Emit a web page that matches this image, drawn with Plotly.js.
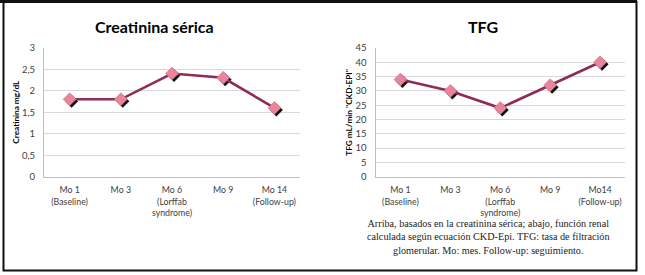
<!DOCTYPE html>
<html><head><meta charset="utf-8">
<script src="https://cdn.plot.ly/plotly-3.0.1.min.js"></script>
<style>html,body{margin:0;padding:0;background:#fff}#c{width:645px;height:275px}</style>
</head><body><div id="c"></div>
<script>
// ---- data ----
const catIdx = [0, 1, 2, 3, 4];
const labelsCreat = ["Mo 1<br>(Baseline)", "Mo 3", "Mo 6<br>(Lorffab<br>syndrome)", "Mo 9", "Mo 14<br>(Follow-up)"];
const labelsTFG = ["Mo 1<br>(Baseline)", "Mo 3", "Mo 6<br>(Lorffab<br>syndrome)", "Mo 9", "Mo14<br>(Follow-up)"];
const creatinina = [1.8, 1.8, 2.4, 2.3, 1.6];
const tfg = [34, 30, 24, 32, 40];
const creatTicks = [0, 0.5, 1, 1.5, 2, 2.5, 3];
const tfgTicks = [0, 5, 10, 15, 20, 25, 30, 35, 40, 45];
const titleCreat = "Creatinina sérica";
const titleTFG = "TFG";
const yTitleCreat = "Creatinina mg/dL";
const yTitleTFG = "TFG mL/min \"CKD-EPI\"";
const caption = "Arriba, basados en la creatinina sérica; abajo, función renal<br>calculada según ecuación CKD-Epi. TFG: tasa de filtración<br>glomerular. Mo: mes. Follow-up: seguimiento.";

// ---- geometry (px) ----
const W = 645, H = 275;
const px = v => v / W, py = v => 1 - v / H;
const p1 = {x0: 44, x1: 300, y0: 47.7, y1: 176.7};
const p2 = {x0: 375.5, x1: 625, y0: 48, y1: 176.7};
const sh = 2; // shadow offset px

const lineCol = '#8e2c57', mk = '#e8849c', txt = '#404040', grid = '#d9d9d9';
const xr = [-0.5, 4.5];
function shiftX(p){ const u = (xr[1]-xr[0])/(p.x1-p.x0)*sh; return [xr[0]-u, xr[1]-u]; }
function shiftY(p, r){ const u = (r[1]-r[0])/(p.y1-p.y0)*sh; return [r[0]+u, r[1]+u]; }
const r1 = [0, 3], r2 = [0, 45];

const tickFont = {family: 'Lato, "Open Sans", sans-serif', size: 9.5, color: txt};
const xTickFont = {family: 'Lato, "Open Sans", sans-serif', size: 8.8, color: txt};
const baseX = (p, labels) => ({domain: [px(p.x0), px(p.x1)], range: xr, tickmode: 'array', tickvals: catIdx, ticktext: labels,
  showgrid: false, zeroline: false, showline: true, linecolor: '#bfbfbf', linewidth: 1, ticks: '', tickfont: xTickFont, ticklabelstandoff: 5, fixedrange: true});
const baseY = (p, r, tv, title, standoff) => ({domain: [py(p.y1), py(p.y0)], range: r, tickmode: 'array', tickvals: tv,
  showgrid: true, gridcolor: grid, gridwidth: 1, zeroline: false, showline: true, linecolor: '#bfbfbf', ticks: '', tickfont: tickFont,
  ticklabelstandoff: 6, title: {text: title, font: {family: 'Lato, "Open Sans", sans-serif', size: 8.2, color: '#000', weight: 'bold'}, standoff: standoff}});
const hid = (dom, r, anchor, over) => ({domain: dom, range: r, visible: false, overlaying: over, anchor: anchor, fixedrange: true});

const layout = {
  width: W, height: H, margin: {l: 0, r: 0, t: 0, b: 0}, paper_bgcolor: '#fff', plot_bgcolor: 'rgba(0,0,0,0)',
  showlegend: false, separators: ', ',
  xaxis: Object.assign(baseX(p1, labelsCreat), {anchor: 'y'}),
  yaxis: Object.assign(baseY(p1, r1, creatTicks, yTitleCreat, 1), {anchor: 'x'}),
  xaxis2: Object.assign(baseX(p2, labelsTFG), {anchor: 'y2'}),
  yaxis2: Object.assign(baseY(p2, r2, tfgTicks, yTitleTFG, 1), {anchor: 'x2'}),
  // shadow layers
  xaxis3: hid([px(p1.x0), px(p1.x1)], shiftX(p1), 'y3', 'x'),
  yaxis3: hid([py(p1.y1), py(p1.y0)], shiftY(p1, r1), 'x3', 'y'),
  xaxis4: hid([px(p2.x0), px(p2.x1)], shiftX(p2), 'y4', 'x2'),
  yaxis4: hid([py(p2.y1), py(p2.y0)], shiftY(p2, r2), 'x4', 'y2'),
  // main layers
  xaxis5: hid([px(p1.x0), px(p1.x1)], xr, 'y5', 'x'),
  yaxis5: hid([py(p1.y1), py(p1.y0)], r1, 'x5', 'y'),
  xaxis6: hid([px(p2.x0), px(p2.x1)], xr, 'y6', 'x2'),
  yaxis6: hid([py(p2.y1), py(p2.y0)], r2, 'x6', 'y2'),
  annotations: [
    {text: '<b>' + titleCreat + '</b>', xref: 'paper', yref: 'paper', x: px(154), y: py(27), xanchor: 'center', yanchor: 'middle', showarrow: false,
     font: {family: 'Lato, "Open Sans", sans-serif', size: 16, color: '#000'}},
    {text: '<b>' + titleTFG + '</b>', xref: 'paper', yref: 'paper', x: px(483), y: py(27), xanchor: 'center', yanchor: 'middle', showarrow: false,
     font: {family: 'Lato, "Open Sans", sans-serif', size: 16, color: '#000'}},
    {text: caption, xref: 'paper', yref: 'paper', x: px(488), y: py(237), xanchor: 'center', yanchor: 'middle', showarrow: false, align: 'center',
     font: {family: '"Liberation Serif", "DejaVu Serif", serif', size: 10.2, color: '#222'}}
  ],
  shapes: [
    {type: 'rect', xref: 'paper', yref: 'paper', x0: px(3.5), x1: px(636.5), y0: py(270.5), y1: py(2), line: {color: '#111', width: 2}},
    {type: 'line', xref: 'paper', yref: 'paper', x0: px(0), x1: px(637), y0: py(1.5), y1: py(1.5), line: {color: '#111', width: 3}}
  ]
};

const empty = (xa, ya) => ({x: [], y: [], xaxis: xa, yaxis: ya, type: 'scatter', mode: 'markers', hoverinfo: 'skip'});
const shadow = (y, xa, ya) => ({x: catIdx, y: y, xaxis: xa, yaxis: ya, type: 'scatter', mode: 'markers', hoverinfo: 'skip',
  marker: {symbol: 'diamond', size: 10, color: '#111'}});
const main = (y, xa, ya) => ({x: catIdx, y: y, xaxis: xa, yaxis: ya, type: 'scatter', mode: 'lines+markers',
  line: {color: lineCol, width: 2.6}, marker: {symbol: 'diamond', size: 10, color: mk, line: {color: '#c86a82', width: 0.5}}});

const data = [
  empty('x', 'y'),
  empty('x2', 'y2'),
  shadow(creatinina, 'x3', 'y3'),
  shadow(tfg, 'x4', 'y4'),
  main(creatinina, 'x5', 'y5'),
  main(tfg, 'x6', 'y6')
];
Plotly.newPlot('c', data, layout, {staticPlot: true});
</script></body></html>
